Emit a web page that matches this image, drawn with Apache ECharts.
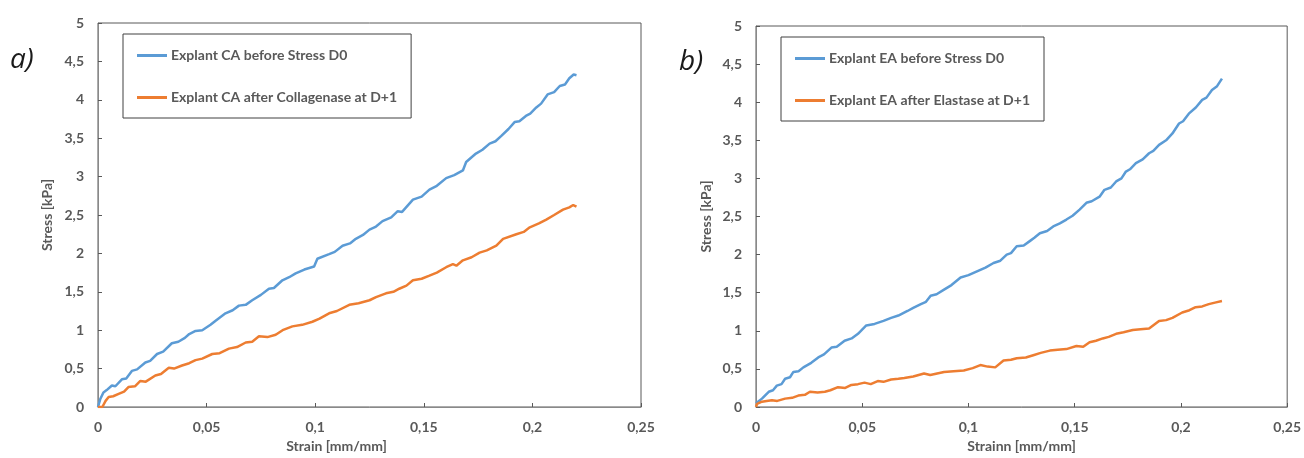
<!DOCTYPE html>
<html><head><meta charset="utf-8">
<script src="https://cdn.jsdelivr.net/npm/echarts@6/dist/echarts.min.js"></script>
<style>html,body{margin:0;padding:0;background:#fff}#c{width:1304px;height:458px}</style>
</head><body><div id="c"></div>
<script>
const xTicks = [0, 0.05, 0.1, 0.15, 0.2, 0.25];
const yTicks = [0, 0.5, 1, 1.5, 2, 2.5, 3, 3.5, 4, 4.5, 5];
const seriesNames = ['Explant CA before Stress D0', 'Explant CA after Collagenase at D+1', 'Explant EA before Stress D0', 'Explant EA after Elastase at D+1'];
const xTitles = ['Strain [mm/mm]', 'Strainn [mm/mm]'];
const yTitle = 'Stress [kPa]';
const panelLabels = ['a)', 'b)'];

const caBefore = [[0,0],[0.001,0.1],[0.0025,0.19],[0.004,0.22],[0.0064,0.28],[0.008,0.27],[0.011,0.36],[0.013,0.37],[0.0156,0.47],[0.018,0.49],[0.0218,0.58],[0.024,0.6],[0.0272,0.69],[0.03,0.72],[0.034,0.83],[0.037,0.85],[0.040,0.90],[0.042,0.95],[0.0449,0.99],[0.048,1.0],[0.0518,1.07],[0.054,1.12],[0.0587,1.22],[0.062,1.26],[0.0649,1.32],[0.068,1.33],[0.071,1.39],[0.075,1.46],[0.0787,1.54],[0.081,1.55],[0.0849,1.65],[0.088,1.69],[0.091,1.74],[0.095,1.79],[0.0995,1.83],[0.101,1.93],[0.1064,1.99],[0.109,2.02],[0.1126,2.10],[0.116,2.13],[0.1187,2.19],[0.122,2.24],[0.125,2.31],[0.128,2.35],[0.131,2.42],[0.135,2.47],[0.138,2.55],[0.14,2.54],[0.145,2.70],[0.149,2.74],[0.1526,2.83],[0.156,2.88],[0.1603,2.98],[0.164,3.02],[0.168,3.08],[0.1695,3.19],[0.174,3.30],[0.177,3.35],[0.1803,3.43],[0.183,3.46],[0.1857,3.53],[0.189,3.62],[0.1918,3.71],[0.194,3.72],[0.197,3.79],[0.199,3.82],[0.2018,3.90],[0.204,3.95],[0.207,4.07],[0.21,4.10],[0.2126,4.18],[0.215,4.2],[0.217,4.28],[0.219,4.33],[0.2203,4.32]];
const caAfter = [[0,0],[0.002,0],[0.0035,0.08],[0.0049,0.13],[0.007,0.14],[0.0095,0.17],[0.012,0.2],[0.014,0.26],[0.017,0.27],[0.0195,0.34],[0.022,0.33],[0.0264,0.41],[0.029,0.43],[0.0326,0.51],[0.035,0.5],[0.0387,0.54],[0.042,0.57],[0.0449,0.61],[0.048,0.63],[0.0526,0.69],[0.056,0.7],[0.0603,0.76],[0.064,0.78],[0.068,0.84],[0.071,0.85],[0.0741,0.92],[0.078,0.91],[0.0818,0.94],[0.085,1.0],[0.0895,1.05],[0.094,1.07],[0.0987,1.11],[0.102,1.15],[0.1064,1.22],[0.11,1.25],[0.1157,1.33],[0.12,1.35],[0.125,1.39],[0.128,1.43],[0.1326,1.48],[0.136,1.5],[0.1387,1.54],[0.142,1.58],[0.145,1.65],[0.149,1.67],[0.1526,1.71],[0.156,1.75],[0.1603,1.82],[0.1634,1.86],[0.165,1.84],[0.168,1.91],[0.172,1.95],[0.1757,2.01],[0.179,2.04],[0.1834,2.10],[0.1865,2.19],[0.1926,2.25],[0.196,2.28],[0.1988,2.34],[0.203,2.39],[0.2064,2.44],[0.21,2.5],[0.2141,2.57],[0.217,2.6],[0.2188,2.63],[0.2203,2.61]];
const eaBefore = [[0,0.05],[0.0028,0.11],[0.006,0.2],[0.008,0.22],[0.0098,0.28],[0.012,0.3],[0.0137,0.37],[0.016,0.39],[0.0176,0.46],[0.02,0.47],[0.0223,0.52],[0.026,0.58],[0.0293,0.65],[0.032,0.69],[0.0355,0.78],[0.038,0.79],[0.0417,0.87],[0.045,0.9],[0.048,0.96],[0.0519,1.07],[0.0558,1.09],[0.06,1.13],[0.0636,1.17],[0.067,1.2],[0.0713,1.26],[0.074,1.3],[0.0776,1.35],[0.08,1.38],[0.0822,1.46],[0.085,1.48],[0.0885,1.54],[0.092,1.6],[0.0963,1.70],[0.1,1.73],[0.104,1.78],[0.108,1.83],[0.1118,1.89],[0.115,1.92],[0.118,2.0],[0.12,2.02],[0.1227,2.11],[0.126,2.12],[0.129,2.18],[0.131,2.22],[0.1336,2.28],[0.137,2.31],[0.1399,2.37],[0.143,2.41],[0.1461,2.46],[0.149,2.51],[0.1523,2.59],[0.1555,2.68],[0.158,2.7],[0.1617,2.76],[0.164,2.85],[0.167,2.88],[0.1695,2.96],[0.172,3.0],[0.1741,3.09],[0.176,3.12],[0.1788,3.20],[0.182,3.25],[0.185,3.33],[0.187,3.36],[0.1897,3.44],[0.193,3.5],[0.196,3.59],[0.1991,3.72],[0.201,3.75],[0.2037,3.85],[0.207,3.93],[0.21,4.03],[0.212,4.06],[0.2146,4.16],[0.217,4.21],[0.2193,4.31]];
const eaAfter = [[0,0],[0.0005,0.04],[0.0028,0.07],[0.005,0.08],[0.0075,0.09],[0.01,0.08],[0.0137,0.11],[0.017,0.12],[0.0199,0.15],[0.023,0.16],[0.0254,0.2],[0.029,0.19],[0.0324,0.2],[0.035,0.22],[0.0386,0.26],[0.042,0.25],[0.0449,0.29],[0.048,0.3],[0.0511,0.32],[0.054,0.3],[0.0573,0.34],[0.06,0.33],[0.0636,0.36],[0.067,0.37],[0.0698,0.38],[0.074,0.4],[0.0791,0.44],[0.082,0.42],[0.0885,0.46],[0.093,0.47],[0.0978,0.48],[0.102,0.51],[0.1056,0.55],[0.109,0.53],[0.1126,0.52],[0.1165,0.61],[0.12,0.62],[0.1227,0.64],[0.127,0.65],[0.1305,0.68],[0.134,0.71],[0.1383,0.74],[0.142,0.75],[0.1461,0.76],[0.1508,0.80],[0.154,0.79],[0.157,0.85],[0.16,0.87],[0.1632,0.90],[0.166,0.92],[0.1695,0.96],[0.173,0.98],[0.1773,1.01],[0.181,1.02],[0.185,1.03],[0.1897,1.13],[0.193,1.14],[0.196,1.17],[0.2006,1.24],[0.204,1.27],[0.2069,1.31],[0.21,1.32],[0.2131,1.35],[0.216,1.37],[0.2193,1.39]];

const FONT = 'Lato, "Open Sans", sans-serif';
const GRAY = '#595959';
const BLUE = '#5B9BD5';
const ORANGE = '#ED7D31';
const fmt = v => String(v).replace('.', ',');

const grids = [
  {left: 98, top: 23, width: 543, height: 389},
  {left: 756, top: 26, width: 535, height: 383}
];

function xAxis(i, name, pad) {
  return {
    type: 'value', gridIndex: i, min: xTicks[0], max: xTicks[xTicks.length - 1], interval: xTicks[1] - xTicks[0],
    name: name, nameLocation: 'middle', nameGap: 32,
    nameTextStyle: {color: GRAY, fontWeight: 'bold', fontSize: 14, fontFamily: FONT, padding: pad},
    axisLine: {show: true, lineStyle: {color: '#898989', width: 1}},
    axisTick: {show: true, inside: true, length: 4, lineStyle: {color: '#595959'}},
    axisLabel: {color: GRAY, fontWeight: 'bold', fontSize: 14, fontFamily: FONT, margin: 13, formatter: fmt},
    splitLine: {show: false}
  };
}
function yAxis(i, gap) {
  return {
    type: 'value', gridIndex: i, min: yTicks[0], max: yTicks[yTicks.length - 1], interval: yTicks[1] - yTicks[0],
    name: yTitle, nameLocation: 'middle', nameGap: gap,
    nameTextStyle: {color: GRAY, fontWeight: 'bold', fontSize: 14, fontFamily: FONT},
    axisLine: {show: true, lineStyle: {color: '#898989', width: 1}},
    axisTick: {show: true, inside: true, length: 4, lineStyle: {color: '#595959'}},
    axisLabel: {color: GRAY, fontWeight: 'bold', fontSize: 14, fontFamily: FONT, margin: 14, formatter: fmt},
    splitLine: {show: false}
  };
}
function legend(names, left, top) {
  return {
    data: names, left: left, top: top, orient: 'vertical',
    icon: 'rect', itemWidth: 30, itemHeight: 3, itemGap: 27,
    padding: [14, 14, 13, 14],
    borderColor: '#404040', borderWidth: 1,
    textStyle: {color: GRAY, fontWeight: 'bold', fontSize: 14, lineHeight: 15, fontFamily: FONT, padding: [0, 0, 0, -1]},
    selectedMode: false
  };
}
function line(name, data, color, i) {
  return {
    name: name, type: 'line', data: data, xAxisIndex: i, yAxisIndex: i,
    symbol: 'none', smooth: false, lineStyle: {color: color, width: 2.5}, itemStyle: {color: color},
    animation: false
  };
}

const chart = echarts.init(document.getElementById('c'), null, {renderer: 'canvas'});
chart.setOption({
  animation: false,
  backgroundColor: '#fff',
  grid: grids.map(g => Object.assign({show: true, borderColor: '#595959', borderWidth: 1, backgroundColor: 'transparent'}, g)),
  xAxis: [xAxis(0, xTitles[0], [0, 66, 0, 0]), xAxis(1, xTitles[1], 0)],
  yAxis: [yAxis(0, 44), yAxis(1, 43)],
  legend: [legend([seriesNames[0], seriesNames[1]], 123, 34), legend([seriesNames[2], seriesNames[3]], 781, 37)],
  title: [
    {text: panelLabels[0], left: 10, top: 46, textStyle: {fontSize: 28, fontStyle: 'italic', fontWeight: 'normal', color: '#1a1a1a', fontFamily: '"Open Sans", sans-serif'}, padding: 0},
    {text: panelLabels[1], left: 679, top: 48, textStyle: {fontSize: 28, fontStyle: 'italic', fontWeight: 'normal', color: '#1a1a1a', fontFamily: '"Open Sans", sans-serif'}, padding: 0}
  ],
  series: [
    line(seriesNames[0], caBefore, BLUE, 0),
    line(seriesNames[1], caAfter, ORANGE, 0),
    line(seriesNames[2], eaBefore, BLUE, 1),
    line(seriesNames[3], eaAfter, ORANGE, 1)
  ]
});
</script></body></html>
